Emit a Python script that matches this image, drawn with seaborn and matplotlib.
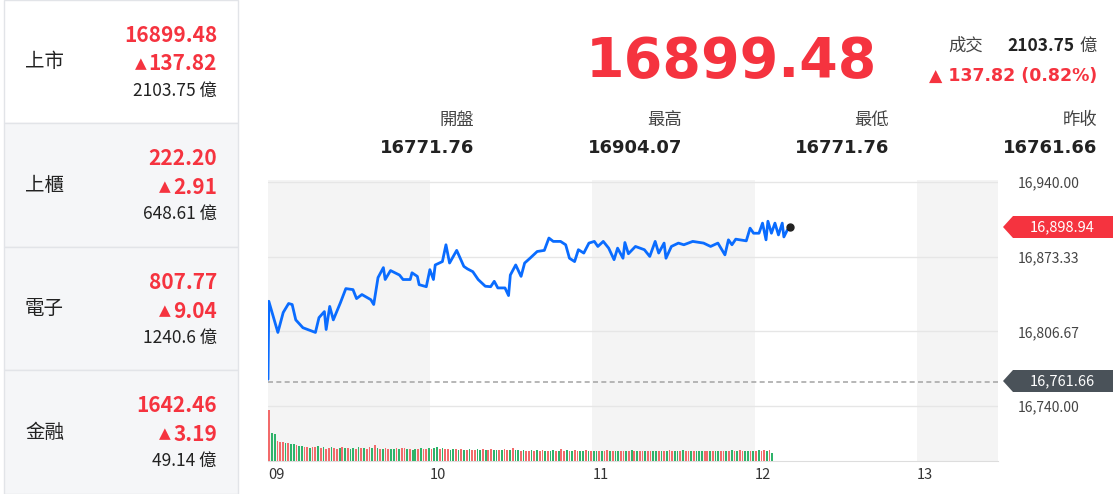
import matplotlib
matplotlib.use("Agg")
import matplotlib.pyplot as plt
import seaborn as sns
import numpy as np
import pandas as pd
from matplotlib.patches import Rectangle, Polygon

sns.set_style("white")
plt.rcParams['font.family'] = ['Noto Sans CJK TC', 'DejaVu Sans']

# ---------------- data ----------------
panel_names = ["上市", "上櫃", "電子", "金融"]
panel_values = ["16899.48", "222.20", "807.77", "1642.46"]
panel_changes = ["137.82", "2.91", "9.04", "3.19"]
panel_volumes = ["2103.75 億", "648.61 億", "1240.6 億", "49.14 億"]

index_value = "16899.48"
turnover = "2103.75"
change_text = "▲ 137.82 (0.82%)"
stat_labels = ["開盤", "最高", "最低", "昨收"]
stat_values = ["16771.76", "16904.07", "16771.76", "16761.66"]

prev_close = 16761.66
last_price = 16898.94
y_ticks = [16940.00, 16873.33, 16806.67, 16740.00]
x_tick_minutes = [0, 60, 120, 180, 240]
x_tick_labels = ["09", "10", "11", "12", "13"]

minutes = [0, 0.3, 3.65, 5.63, 7.62, 8.94, 10.27, 12.91, 17.54, 18.86, 20.85, 21.51,
           22.83, 24.16, 26.8, 28.79, 31.43, 32.75, 34.74, 38.04, 39.1, 40.69, 42.67,
           43.34, 45.32, 48.63, 49.95, 52.6, 53.26, 55.24, 55.9, 58.55, 59.87, 61.19,
           61.85, 64.5, 65.82, 67.15, 69.79, 72.44, 73.76, 75.75, 77.73, 80.37, 82.36,
           83.68, 85.0, 87.65, 88.97, 89.63, 91.62, 93.6, 94.92, 96.91, 99.56, 102.2,
           103.9, 105.5, 108.2, 110.1, 111.5, 113.4, 114.8, 116.8, 118.7, 120.7, 122.0,
           124.0, 126.0, 128.0, 129.3, 131.3, 132.0, 133.3, 135.9, 139.2, 141.2, 143.2,
           144.5, 146.5, 147.2, 149.2, 151.8, 153.8, 157.1, 161.1, 163.7, 166.4, 169.0,
           170.3, 171.6, 173.0, 176.9, 178.3, 179.6, 181.6, 182.9, 184.2, 184.9, 186.2,
           187.5, 188.8, 190.2, 190.8, 192.1]
prices = [16764.0, 16833.6, 16805.8, 16823.6, 16831.6, 16830.7, 16817.0, 16810.0, 16805.8,
          16819.0, 16824.4, 16808.4, 16829.0, 16817.0, 16832.4, 16844.9, 16844.0, 16836.0,
          16839.6, 16835.0, 16830.7, 16854.7, 16863.6, 16853.0, 16861.0, 16857.0, 16853.0,
          16853.0, 16859.0, 16855.8, 16848.4, 16846.6, 16861.8, 16853.0, 16866.0, 16869.0,
          16884.0, 16867.7, 16879.0, 16864.7, 16862.5, 16860.0, 16853.0, 16847.0, 16846.6,
          16851.4, 16845.5, 16845.5, 16838.7, 16857.0, 16866.0, 16855.8, 16867.7, 16872.0,
          16878.0, 16879.0, 16890.0, 16887.0, 16887.0, 16884.0, 16872.0, 16869.0, 16879.6,
          16876.6, 16885.5, 16887.0, 16882.5, 16887.0, 16881.0, 16870.7, 16881.0, 16872.0,
          16886.0, 16876.0, 16882.5, 16879.6, 16873.6, 16887.0, 16876.6, 16885.5, 16872.0,
          16882.5, 16885.5, 16884.0, 16887.0, 16885.5, 16882.5, 16885.5, 16875.0, 16888.4,
          16884.0, 16889.0, 16887.5, 16898.8, 16894.3, 16894.3, 16903.3, 16888.4, 16905.0,
          16894.3, 16903.3, 16892.8, 16903.3, 16891.0, 16897.3]

volumes = [51, 28, 27, 20, 19, 19, 18, 18, 17, 17, 16, 15, 15, 14, 14, 13, 14, 14, 15, 13,
           14, 12, 13, 14, 13, 12, 13, 14, 13, 13, 12, 13, 12, 14, 13, 13, 12, 14, 13, 16,
           13, 12, 12, 13, 12, 12, 12, 13, 12, 13, 13, 12, 12, 11, 12, 12, 13, 12, 12, 13,
           12, 13, 14, 12, 13, 12, 12, 11, 12, 12, 11, 12, 11, 11, 12, 11, 11, 12, 11, 12,
           11, 11, 12, 11, 11, 11, 11, 12, 11, 11, 13, 11, 11, 10, 11, 10, 10, 11, 10, 11,
           10, 11, 10, 10, 10, 11, 10, 10, 12, 10, 11, 10, 10, 11, 10, 10, 10, 11, 10, 10,
           10, 10, 10, 10, 10, 11, 10, 10, 10, 10, 10, 10, 10, 10, 11, 10, 10, 10, 10, 10,
           10, 10, 10, 10, 10, 10, 10, 10, 11, 10, 10, 10, 10, 11, 10, 10, 10, 10, 10, 10,
           10, 10, 10, 10, 10, 10, 10, 10, 10, 10, 10, 11, 10, 10, 11, 10, 10, 10, 10, 10,
           10, 11, 10, 11, 10, 11, 8]
vol_dir = ("RGGRRRGRGGRGGRRGRRGR" "GRRGRRGRGRGGRGRGRRGR" "GRGRRGGRGRRGRGGRGRRG"
           "RGGRGRRGGRGRGRGRRGGR" "GRRGGRGRRGRGGRGRRGRG" "RRGRGGRGRRGRGRRGGRGR"
           "GGRGRRGRGGRRGRGRGRRG" "RRGGRGRGRRGGRGRRGRGG" "GRRGRGGRRGRGRGRRGGRG"
           "RGRRGRGRGRGRR")

# ---------------- figure ----------------
W, H = 1120, 494
fig = plt.figure(figsize=(W / 100, H / 100), dpi=100)
fig.patch.set_facecolor("white")

def fx(px): return px / W
def fy(py): return 1 - py / H

RED = "#f5333f"
DARK = "#222222"

bg = fig.add_axes([0, 0, 1, 1], zorder=0)
bg.set_xlim(0, W); bg.set_ylim(H, 0); bg.axis("off")
rows = [(0, 123, "white"), (123, 247, "#f5f6f8"), (247, 370, "#f5f6f8"), (370, 494, "#f5f6f8")]
for y0, y1, c in rows:
    bg.add_patch(Rectangle((4, y0), 234, y1 - y0, facecolor=c, edgecolor="#e2e4e8", lw=1))
for i, (y0, y1, c) in enumerate(rows):
    cy = (y0 + y1) / 2
    bg.text(25, cy, panel_names[i], fontsize=14, color=DARK, va="center", ha="left")
    bg.text(217, y0 + 35, panel_values[i], fontsize=15, color=RED, weight="bold", va="center", ha="right")
    bg.text(217, y0 + 64, panel_changes[i], fontsize=15, color=RED, weight="bold", va="center", ha="right")
    bg.text(217 - 12 * len(panel_changes[i]) + 2, y0 + 64, "▲", fontsize=11, color=RED, va="center",
            ha="right", family=["DejaVu Sans"])
    bg.text(217, y0 + 91, panel_volumes[i], fontsize=12.5, color=DARK, va="center", ha="right")

# header
bg.text(877, 62, index_value, fontsize=40, color=RED, weight="bold", va="center", ha="right", family=["DejaVu Sans"])
bg.text(983, 46, "成交", fontsize=12.5, color="#444444", va="center", ha="right")
bg.text(1075, 46, turnover, fontsize=12.5, color=DARK, weight="bold", va="center", ha="right")
bg.text(1097, 46, "億", fontsize=12.5, color="#444444", va="center", ha="right")
bg.text(1097, 76, change_text, fontsize=12.5, color=RED, weight="bold", va="center", ha="right", family=["DejaVu Sans"])
for lab, val, xr in zip(stat_labels, stat_values, [474, 682, 889, 1097]):
    bg.text(xr, 120, lab, fontsize=12.5, color="#444444", va="center", ha="right")
    bg.text(xr, 148, val, fontsize=13, color=DARK, weight="bold", va="center", ha="right", family=["DejaVu Sans"])

# chart axes
L, R, T, B = 268, 998, 180, 461
ax = fig.add_axes([fx(L), fy(B), fx(R - L), (B - T) / H], zorder=2)
ax.set_xlim(0, 270)
ax.set_ylim(16740 - 55 * 0.8889, 16940 + 2 * 0.8889)
for a, b in [(0, 60), (120, 180), (240, 270)]:
    ax.axvspan(a, b, color="#f4f4f4", lw=0, zorder=0)
for yt in y_ticks:
    ax.axhline(yt, color="#e6e6e6", lw=1, zorder=1)
ax.axhline(prev_close, color="#aaaaaa", lw=1.2, ls=(0, (3, 2)), zorder=2)

df = pd.DataFrame({"minute": minutes, "price": prices})
sns.lineplot(data=df, x="minute", y="price", ax=ax, color="#0a6cff", lw=2, zorder=4)
ax.plot([193.1], [16900.0], "o", color="#222222", ms=5, zorder=5)

# volume
vax = ax.twinx()
vax.set_ylim(0, max(volumes) * (B - T) / 51)
vx = np.arange(len(volumes)) + 0.5
cols = ["#f26b6b" if d == "R" else "#2fb36a" for d in vol_dir[:len(volumes)]]
vax.bar(vx, volumes, width=0.65, color=cols, lw=0, zorder=3)
vax.set_yticks([])
vax.tick_params(left=False, right=False, labelleft=False, labelright=False)
for s in vax.spines.values():
    s.set_visible(False)

ax.set_yticks(y_ticks)
ax.set_yticklabels([f"{v:,.2f}" for v in y_ticks])
ax.yaxis.set_ticks_position("right")
ax.tick_params(axis="y", which="both", left=False, labelleft=False, right=False, labelright=True,
               length=0, pad=14, labelsize=10, labelcolor="#444444")
ax.set_xticks(x_tick_minutes)
ax.set_xticklabels(x_tick_labels)
for lbl in ax.get_xticklabels():
    lbl.set_ha("left")
ax.tick_params(axis="x", length=0, pad=5, labelsize=10.5, labelcolor="#333333")
ax.set_xlabel(""); ax.set_ylabel("")
for s in ["top", "left", "right"]:
    ax.spines[s].set_visible(False)
ax.spines["bottom"].set_color("#dddddd")

# price tags
top = fig.add_axes([0, 0, 1, 1], zorder=3)
top.set_xlim(0, W); top.set_ylim(H, 0); top.axis("off")

def tag(py, text, color):
    x0 = 1003
    top.add_patch(Polygon([[x0, py], [x0 + 10, py - 11], [1113, py - 11], [1113, py + 11], [x0 + 10, py + 11]],
                          closed=True, facecolor=color, edgecolor="none", zorder=5))
    top.text(1062, py, text, fontsize=10.5, color="white", va="center", ha="center", zorder=6)

tag(227, f"{last_price:,.2f}", "#f5333f")
tag(381, f"{prev_close:,.2f}", "#4a5259")

fig.savefig("out.png", dpi=100)
